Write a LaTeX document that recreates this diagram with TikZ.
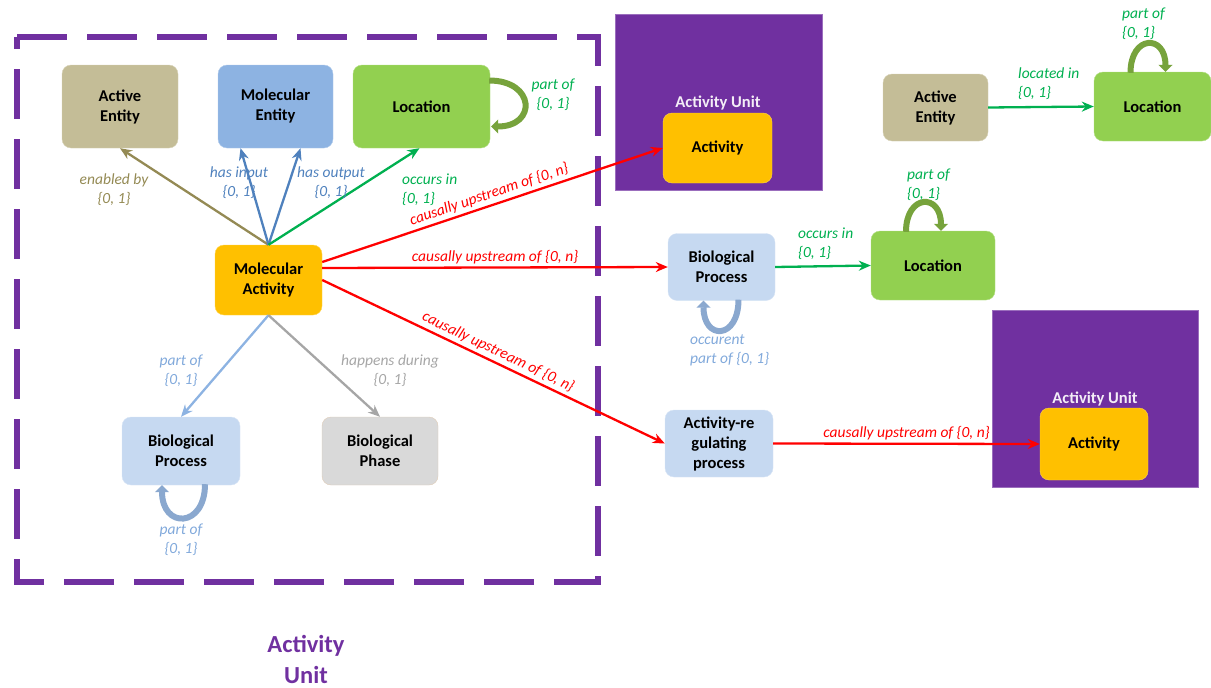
\documentclass[tikz,border=0pt]{standalone}
\usepackage{fontspec}
\setmainfont{Carlito}
\usetikzlibrary{arrows.meta}
\definecolor{auv}{HTML}{7030A0}
\definecolor{tanf}{HTML}{C4BD97}
\definecolor{mef}{HTML}{8DB3E2}
\definecolor{locf}{HTML}{92D050}
\definecolor{maf}{HTML}{FFC000}
\definecolor{bpf}{HTML}{C6D9F1}
\definecolor{phf}{HTML}{D9D9D9}
\definecolor{olive}{HTML}{948A54}
\definecolor{bluel}{HTML}{4F81BD}
\definecolor{greenl}{HTML}{00B050}
\definecolor{lblue}{HTML}{8DB3E2}
\definecolor{grayl}{HTML}{A6A6A6}
\definecolor{redl}{HTML}{FF0000}
\definecolor{loopg}{HTML}{77A33C}
\definecolor{loopb}{HTML}{8AA8CF}
\begin{document}
\begin{tikzpicture}[x=1pt,y=-1pt,
  box/.style={rounded corners=9pt, align=center, inner sep=2pt,
    font=\bfseries\fontsize{16.5}{20}\selectfont, text=black},
  conn/.style={line width=2.3pt, -{Stealth[length=12pt,width=10pt]}},
  lbl/.style={font=\itshape\fontsize{15.5}{19}\selectfont, align=center, inner sep=1pt},
  loop/.style={line width=6pt, -{Triangle[length=7pt,width=14pt]}},
  unitbox/.style={fill=auv, draw=auv!70!white, line width=0.8pt},
  unittitle/.style={font=\bfseries\fontsize{16.5}{19}\selectfont, text=white!92!auv}
]
\useasboundingbox (0,0) rectangle (1211,688);

% dashed activity unit frame
\draw[auv, line width=6pt, dash pattern=on 50pt off 20pt]
  (17,37) -- (598,37) -- (598,582) -- (17,582) -- cycle;
\node[font=\bfseries\fontsize{24.5}{31}\selectfont, text=auv, align=center] (autext) at (306,659) {Activity\\Unit};

% purple unit boxes
\node[unitbox, minimum width=207pt, minimum height=176pt, inner sep=0pt] (au1) at (718.5,102) {};
\node[unitbox, minimum width=206pt, minimum height=177pt, inner sep=0pt] (au2) at (1095,398.5) {};
\node[unittitle] (au1t) at (718,103) {Activity Unit};
\node[unittitle] (au2t) at (1095,399) {Activity Unit};

% nodes left
\node[box, fill=tanf, draw=tanf!70!white, minimum width=116pt, minimum height=83pt] (ae1) at (120,106.5) {Active\\Entity};
\node[box, fill=mef, draw=mef!70!white, minimum width=115pt, minimum height=83pt] (me) at (275.5,106.5) {Molecular\\Entity};
\node[box, fill=locf, draw=locf!70!white, minimum width=137pt, minimum height=83pt] (loc1) at (421.5,106.5) {Location};
\node[box, fill=maf, draw=maf!70!white, minimum width=107pt, minimum height=70pt] (ma) at (268.5,280) {Molecular\\Activity};
\node[box, fill=bpf, draw=bpf!70!white, minimum width=118pt, minimum height=68pt] (bp1) at (181,451) {Biological\\Process};
\node[box, fill=phf, draw=orange!15!phf, minimum width=116pt, minimum height=68pt] (bph) at (380,451) {Biological\\Phase};

% nodes right
\node[box, fill=maf, draw=maf!70!white, minimum width=109pt, minimum height=70pt] (act1) at (717.5,148) {Activity};
\node[box, fill=bpf, draw=bpf!70!white, minimum width=107pt, minimum height=67pt] (bp2) at (721.5,267) {Biological\\Process};
\node[box, fill=locf, draw=locf!70!white, minimum width=124pt, minimum height=69pt] (loc2) at (933,265.5) {Location};
\node[box, fill=tanf, draw=tanf!70!white, minimum width=105pt, minimum height=67pt] (ae2) at (935.5,107.5) {Active\\Entity};
\node[box, fill=locf, draw=locf!70!white, minimum width=117pt, minimum height=69pt] (loc3) at (1152.5,106.5) {Location};
\node[box, fill=maf, draw=maf!70!white, minimum width=108pt, minimum height=72pt] (act2) at (1094,444) {Activity};
\node[box, fill=bpf, draw=bpf!70!white, minimum width=108pt, minimum height=67pt] (arp) at (719,443.5) {Activity-re\\gulating\\process};

% arrows from molecular activity
\draw[conn, olive] (ma.north) -- (ae1.south);
\draw[conn, bluel] (ma.north) -- ([xshift=-35pt]me.south);
\draw[conn, bluel] (ma.north) -- ([xshift=25pt]me.south);
\draw[conn, greenl] (ma.north) -- ([xshift=-2pt]loc1.south);
\draw[conn, lblue] (ma.south) -- (bp1.north);
\draw[conn, grayl] (ma.south) -- (bph.north);

\node[lbl, text=olive] (l1) at (114,190) {enabled by\\\{0, 1\}};
\node[lbl, text=bluel] (l2) at (239,183) {has input\\\{0, 1\}};
\node[lbl, text=bluel] (l3) at (331,183) {has output\\\{0, 1\}};
\node[lbl, text=greenl, align=left, anchor=west] (l4) at (401,190) {occurs in\\\{0, 1\}};
\node[lbl, text=lblue!80!bluel] (l5) at (181,371) {part of\\\{0, 1\}};
\node[lbl, text=grayl] (l6) at (390,371) {happens during\\\{0, 1\}};

% red causal arrows
\draw[conn, redl] ([yshift=18pt]ma.east) -- (act1.west)
  node[midway, sloped, above=2pt, lbl, text=redl] (c1) {causally upstream of \{0, n\}};
\draw[conn, redl] ([yshift=12pt]ma.east) -- ([yshift=0pt]bp2.west)
  node[midway, above=1pt, lbl, text=redl] (c2) {causally upstream of \{0, n\}};
\draw[conn, redl] (ma.east) -- (arp.west)
  node[midway, sloped, above=2pt, lbl, text=redl] (c3) {causally upstream of \{0, n\}};
\draw[conn, redl] (arp.east) -- (act2.west)
  node[midway, above=2pt, lbl, text=redl] (c4) {causally upstream of \{0, n\}};

% green arrows right
\draw[conn, greenl] (bp2.east) -- (loc2.west);
\node[lbl, text=greenl, align=left, anchor=west] (l7) at (797,244) {occurs in\\\{0, 1\}};
\draw[conn, greenl] (ae2.east) -- (loc3.west);
\node[lbl, text=greenl, align=left, anchor=west] (l8) at (1017,84) {located in\\\{0, 1\}};

% self loops
\draw[loop, loopg] ([xshift=-1pt,yshift=26pt]loc1.east) .. controls +(46,0) and +(46,0) .. ([xshift=1pt,yshift=-20pt]loc1.east);
\node[lbl, text=greenl] (l9) at (553,95) {part of\\\{0, 1\}};

\draw[loop, loopb] ([xshift=24pt,yshift=1pt]bp1.south) .. controls +(0,44) and +(0,44) .. ([xshift=-19pt]bp1.south);
\node[lbl, text=lblue!80!bluel] (l10) at (181,540) {part of\\\{0, 1\}};

\draw[loop, loopb] ([xshift=17pt,yshift=1pt]bp2.south) .. controls +(0,40) and +(0,40) .. ([xshift=-18pt]bp2.south);
\node[lbl, text=lblue!80!bluel, align=left, anchor=west] (l11) at (689,350) {occurent\\part of \{0, 1\}};

\draw[loop, loopg] ([xshift=-27pt,yshift=-1pt]loc2.north) .. controls +(0,-38) and +(0,-38) .. ([xshift=8pt]loc2.north);
\node[lbl, text=greenl, align=left, anchor=west] (l12) at (906,185) {part of\\\{0, 1\}};

\draw[loop, loopg] ([xshift=-22pt,yshift=-1pt]loc3.north) .. controls +(0,-38) and +(0,-38) .. ([xshift=13pt]loc3.north);
\node[lbl, text=greenl, align=left, anchor=west] (l13) at (1121,24) {part of\\\{0, 1\}};
\end{tikzpicture}
\end{document}
